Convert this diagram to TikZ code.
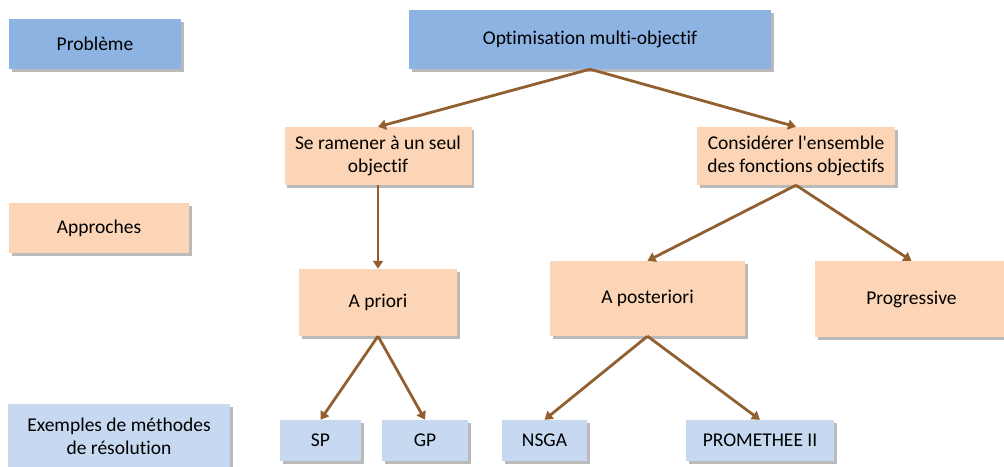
\documentclass[tikz,border=0pt]{standalone}
\usepackage{fontspec}
\setmainfont[Ligatures={NoCommon,TeXOff}]{Carlito}
\usetikzlibrary{shadows,arrows.meta}
\definecolor{bluedark}{RGB}{141,179,226}
\definecolor{bluelight}{RGB}{198,217,241}
\definecolor{peach}{RGB}{251,213,181}
\definecolor{arrowbrown}{RGB}{146,96,48}
\tikzset{
  box/.style={draw=none, inner sep=0pt, align=center, font=\fontsize{19.5}{23}\selectfont,
    drop shadow={shadow xshift=2.5pt, shadow yshift=-2.5pt, fill=black!45, opacity=0.6}},
  probbox/.style={box, fill=bluedark},
  appbox/.style={box, fill=peach},
  exbox/.style={box, fill=bluelight},
  conn/.style={draw=arrowbrown, line width=2.8pt, -{Triangle[width=10pt,length=8pt]}}
}
\begin{document}
\begin{tikzpicture}[x=1pt,y=1pt]
\useasboundingbox (0,0) rectangle (1004,-466);
% left legend
\node[probbox, minimum width=172pt, minimum height=50pt] (prob) at (95,-44) {Problème};
\node[appbox, minimum width=180pt, minimum height=50pt] (appr) at (99,-228) {Approches};
\node[exbox, minimum width=222pt, minimum height=64pt] (ex) at (119,-436) {Exemples de méthodes\\de résolution};
% tree
\node[probbox, minimum width=362pt, minimum height=59pt] (opt) at (590,-39.5) {Optimisation multi-objectif};
\node[appbox, minimum width=187pt, minimum height=58pt] (ser) at (378,-156) {Se ramener à un seul\\objectif};
\node[appbox, minimum width=198pt, minimum height=58pt] (cons) at (796,-156) {Considérer l'ensemble\\des fonctions objectifs};
\node[appbox, minimum width=158pt, minimum height=67pt] (apri) at (378,-302.5) {A priori};
\node[appbox, minimum width=195pt, minimum height=75pt] (apost) at (647.5,-298.5) {A posteriori};
\node[appbox, minimum width=193pt, minimum height=76pt] (prog) at (911.5,-299) {Progressive};
\node[exbox, minimum width=81pt, minimum height=41pt] (sp) at (320.5,-440.5) {SP};
\node[exbox, minimum width=86pt, minimum height=41pt] (gp) at (425,-440.5) {GP};
\node[exbox, minimum width=85pt, minimum height=41pt] (nsga) at (544.5,-440.5) {NSGA};
\node[exbox, minimum width=148pt, minimum height=41pt] (prom) at (760,-440.5) {PROMETHEE II};
% connectors
\draw[conn] (opt.south) -- (ser.north);
\draw[conn] (opt.south) -- (cons.north);
\draw[conn] (ser.south) -- (apri.north);
\draw[conn] (cons.south) -- (apost.north);
\draw[conn] (cons.south) -- (prog.north);
\draw[conn] (apri.south) -- (sp.north);
\draw[conn] (apri.south) -- (gp.north);
\draw[conn] (apost.south) -- (nsga.north);
\draw[conn] (apost.south) -- (prom.north);
\end{tikzpicture}
\end{document}
